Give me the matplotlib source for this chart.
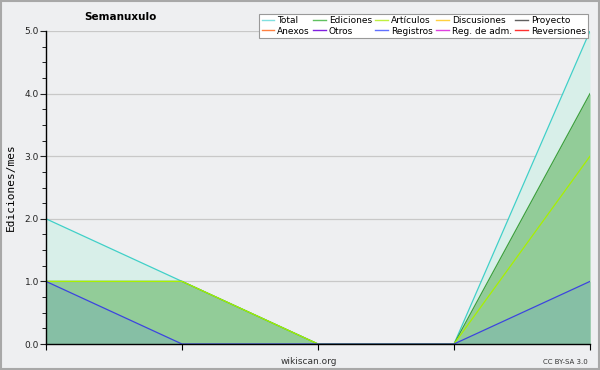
import matplotlib
matplotlib.use("Agg")
import matplotlib.pyplot as plt
from matplotlib.lines import Line2D
from matplotlib.patches import Rectangle

# data
x = [0, 1, 2, 3, 4]
total = [2, 1, 0, 0, 5]
ediciones = [1, 1, 0, 0, 4]
articulos = [1, 1, 0, 0, 3]
registros = [1, 0, 0, 0, 1]

legend_names = ["Total", "Anexos", "Ediciones", "Otros", "Artículos", "Registros",
                "Discusiones", "Reg. de adm.", "Proyecto", "Reversiones"]
legend_colors = ["#80e0e0", "#ff8040", "#60c060", "#8020e0", "#c0f040", "#6070ff",
                 "#ffd040", "#e040e0", "#606060", "#ff3030"]

fig = plt.figure(figsize=(6, 3.7), dpi=100)
fig.patch.set_facecolor("#eeeff1")
fig.patches.append(Rectangle((0.002, 0.003), 0.996, 0.994, transform=fig.transFigure,
                             fill=False, edgecolor="#a8a8a8", linewidth=1.5))

ax = fig.add_axes([46 / 600, 26 / 370, 544 / 600, 313 / 370])
ax.set_facecolor("#eeeff1")

# stacked-looking fills
ax.fill_between(x, total, color="#d8efe9", lw=0)
ax.fill_between(x, ediciones, color="#92cc98", lw=0)
ax.fill_between(x, registros, color="#86bfa5", lw=0)

ax.plot(x, total, color="#40d0c8", lw=0.9)
ax.plot(x, ediciones, color="#3ea03e", lw=0.9)
ax.plot(x, articulos, color="#a8f000", lw=0.9)
ax.plot(x, registros, color="#3c44e0", lw=0.9)

ax.set_xlim(0, 4)
ax.set_ylim(0, 5)
ax.set_yticks([0, 1, 2, 3, 4, 5])
ax.set_yticklabels(["0.0", "1.0", "2.0", "3.0", "4.0", "5.0"])
ax.set_yticks([i * 0.25 for i in range(21)], minor=True)
ax.set_xticks(x)
ax.set_xticklabels([])
ax.grid(axis="y", color="#c8c8c8", lw=0.9)
ax.set_axisbelow(True)
ax.tick_params(axis="y", which="major", length=4, labelsize=6.5, pad=1, colors="#222222")
ax.tick_params(axis="y", which="minor", length=3)
ax.tick_params(axis="x", length=4)
for s in ["top", "right"]:
    ax.spines[s].set_visible(False)
ax.spines["left"].set_linewidth(1.0)
ax.spines["bottom"].set_linewidth(1.0)

ax.set_ylabel("Ediciones/mes", fontsize=8, family="DejaVu Sans Mono", labelpad=6)
fig.text(120 / 600, 1 - 17 / 370, "Semanuxulo", fontsize=7.5, fontweight="bold",
         ha="center", va="center")
fig.text(309 / 600, 1 - 361 / 370, "wikiscan.org", fontsize=6.5, ha="center",
         va="center", color="#333333")
fig.text(588 / 600, 1 - 362 / 370, "CC BY-SA 3.0", fontsize=5, ha="right",
         va="center", color="#333333")

handles = [Line2D([0], [0], color=c, lw=1) for c in legend_colors]
leg = fig.legend(handles, legend_names, ncol=5, loc="upper right",
                 bbox_to_anchor=(593 / 600, 1 - 9 / 370), fontsize=6.5,
                 handlelength=1.4, handletextpad=0.35, columnspacing=0.35,
                 labelspacing=0.15, borderpad=0.3, fancybox=False, framealpha=1)
leg.get_frame().set_edgecolor("#999999")
leg.get_frame().set_linewidth(0.8)

fig.savefig("out.png", dpi=100, facecolor=fig.get_facecolor())
